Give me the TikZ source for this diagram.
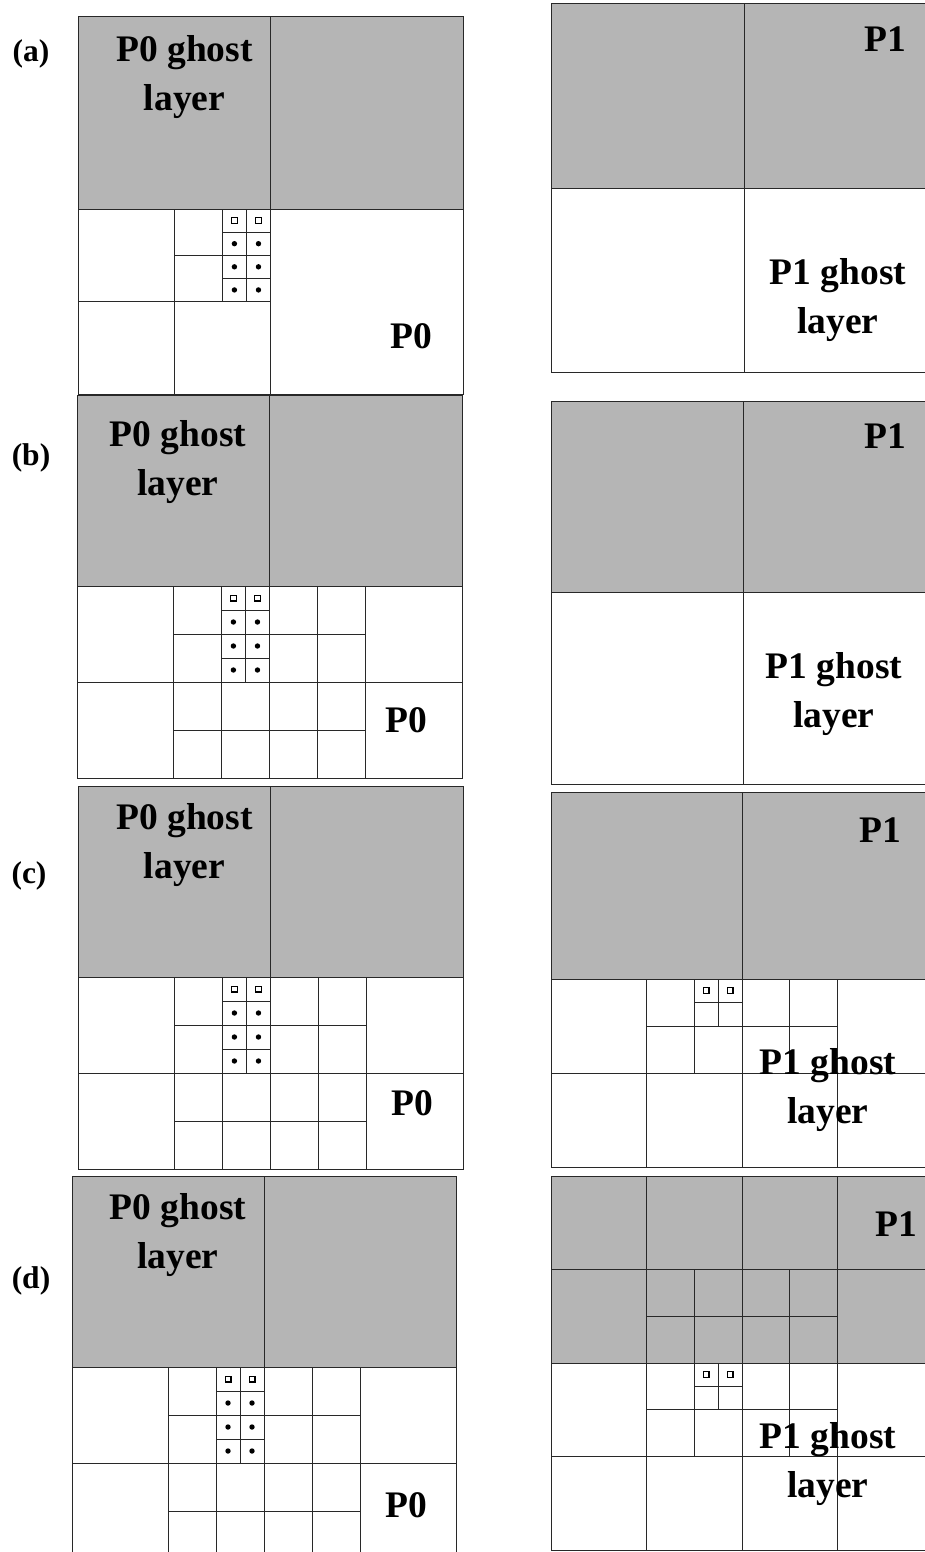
\documentclass[tikz,border=0pt]{standalone}
\usepackage{fontspec}
\setmainfont{Liberation Serif}
\definecolor{ghostgray}{RGB}{181,181,181}
\definecolor{linecol}{RGB}{40,40,40}
\tikzset{
  ghostfill/.style={fill=ghostgray},
  gridline/.style={draw=linecol, line width=1pt},
  bigtext/.style={font=\fontsize{37.5}{49}\selectfont\bfseries, inner sep=0pt, anchor=base, align=center},
  tagtext/.style={font=\fontsize{31.5}{36}\selectfont\bfseries, inner sep=0pt, anchor=base},
  ghostsq/.style={draw=black, line width=1.2pt},
  dotmark/.style={fill=black},
}
% L T W HG HW
\newcommand\setgrid[5]{%
  \pgfmathsetmacro\xA{#1}%
  \pgfmathsetmacro\xB{#1+#3*0.5}%
  \pgfmathsetmacro\xC{#1+#3*0.75}%
  \pgfmathsetmacro\xD{#1+#3*0.875}%
  \pgfmathsetmacro\xE{#1+#3}%
  \pgfmathsetmacro\xF{#1+#3*1.25}%
  \pgfmathsetmacro\xG{#1+#3*1.5}%
  \pgfmathsetmacro\xH{#1+#3*2}%
  \pgfmathsetmacro\mxa{#1+#3*0.8125}%
  \pgfmathsetmacro\mxb{#1+#3*0.9375}%
  \pgfmathsetmacro\yT{#2}%
  \pgfmathsetmacro\yP{#2+#4*0.5}%
  \pgfmathsetmacro\yQ{#2+#4*0.75}%
  \pgfmathsetmacro\yG{#2+#4}%
  \pgfmathsetmacro\yA{#2+#4+#5*0.125}%
  \pgfmathsetmacro\yB{#2+#4+#5*0.25}%
  \pgfmathsetmacro\yC{#2+#4+#5*0.375}%
  \pgfmathsetmacro\yD{#2+#4+#5*0.5}%
  \pgfmathsetmacro\yE{#2+#4+#5*0.75}%
  \pgfmathsetmacro\yZ{#2+#4+#5}%
  \pgfmathsetmacro\myA{#2+#4+#5*0.0625}%
  \pgfmathsetmacro\myB{#2+#4+#5*0.1875}%
  \pgfmathsetmacro\myC{#2+#4+#5*0.3125}%
  \pgfmathsetmacro\myD{#2+#4+#5*0.4375}%
}
\newcommand\pbase{%
  \fill[ghostfill] (\xA,\yT) rectangle (\xH,\yG);
  \draw[gridline] (\xA,\yT) rectangle (\xH,\yZ) (\xE,\yT)--(\xE,\yZ) (\xA,\yG)--(\xH,\yG);
}
\newcommand\pleftextra{%
  \draw[gridline] (\xB,\yG)--(\xB,\yZ) (\xC,\yG)--(\xC,\yZ) (\xD,\yG)--(\xD,\yD)
    (\xF,\yG)--(\xF,\yZ) (\xG,\yG)--(\xG,\yZ) (\xC,\yA)--(\xE,\yA) (\xB,\yB)--(\xG,\yB)
    (\xC,\yC)--(\xE,\yC) (\xA,\yD)--(\xH,\yD) (\xB,\yE)--(\xG,\yE);
}
\newcommand\prightextra{%
  \draw[gridline] (\xB,\yG)--(\xB,\yZ) (\xC,\yG)--(\xC,\yD) (\xD,\yG)--(\xD,\yB)
    (\xF,\yG)--(\xF,\yD) (\xG,\yG)--(\xG,\yZ) (\xC,\yA)--(\xE,\yA) (\xB,\yB)--(\xG,\yB)
    (\xA,\yD)--(\xH,\yD);
}
\newcommand\psquares{%
  \draw[ghostsq] (\mxa,\myA) +(-2.9,-2.9) rectangle +(2.9,2.9)
                 (\mxb,\myA) +(-2.9,-2.9) rectangle +(2.9,2.9);
}
\newcommand\pdots{%
  \fill[dotmark] (\mxa,\myB) circle (2.7pt) (\mxb,\myB) circle (2.7pt)
                 (\mxa,\myC) circle (2.7pt) (\mxb,\myC) circle (2.7pt)
                 (\mxa,\myD) circle (2.7pt) (\mxb,\myD) circle (2.7pt);
}
\begin{document}
\begin{tikzpicture}[x=1pt,y=-1pt]
\useasboundingbox (0,0) rectangle (925,1552);
\clip (0,0) rectangle (925,1552);

% ---------- (a) ----------
\setgrid{78}{17}{192.5}{192}{185}
\pbase
\draw[gridline] (\xB,\yG)--(\xB,\yZ) (\xA,\yD)--(\xE,\yD) (\xC,\yG)--(\xC,\yD)
  (\xB,\yB)--(\xE,\yB) (\xD,\yG)--(\xD,\yD) (\xC,\yA)--(\xE,\yA) (\xC,\yC)--(\xE,\yC);
\psquares \pdots
\node[bigtext] (ga) at (184.5,111) {P0 ghost\\layer};
\node[bigtext] (pa) at (411,348) {P0};
\node[tagtext] (ta) at (31,62) {(a)};

\setgrid{551}{4}{193}{184}{184}
\pbase
\node[bigtext] (qa) at (885,52) {P1};
\node[bigtext] (ha) at (838,333) {P1 ghost\\layer};

% ---------- (b) ----------
\setgrid{77}{395}{192.5}{191}{192}
\pbase \pleftextra \psquares \pdots
\node[bigtext] (gb) at (178,495) {P0 ghost\\layer};
\node[bigtext] (pb) at (406,732) {P0};
\node[tagtext] (tb) at (31,465) {(b)};

\setgrid{551}{401}{192}{191}{192}
\pbase
\node[bigtext] (qb) at (885,448) {P1};
\node[bigtext] (hb) at (834,727) {P1 ghost\\layer};

% ---------- (c) ----------
\setgrid{78}{786}{192.5}{191}{192}
\pbase \pleftextra \psquares \pdots
\node[bigtext] (gc) at (184.5,878) {P0 ghost\\layer};
\node[bigtext] (pc) at (412.5,1115) {P0};
\node[tagtext] (tc) at (29,883) {(c)};

\setgrid{551}{792}{191}{187}{188}
\pbase \prightextra \psquares
\node[bigtext] (qc) at (880,842) {P1};
\node[bigtext] (hc) at (828,1123) {P1 ghost\\layer};

% ---------- (d) ----------
\setgrid{72}{1176}{192}{191}{192}
\pbase \pleftextra \psquares \pdots
\node[bigtext] (gd) at (178,1268) {P0 ghost\\layer};
\node[bigtext] (pd) at (406,1517) {P0};
\node[tagtext] (td) at (31,1288) {(d)};

\setgrid{551}{1176}{191}{187}{187}
\pbase \prightextra
\draw[gridline] (\xB,\yT)--(\xB,\yG) (\xG,\yT)--(\xG,\yG) (\xA,\yP)--(\xH,\yP)
  (\xC,\yP)--(\xC,\yG) (\xF,\yP)--(\xF,\yG) (\xB,\yQ)--(\xG,\yQ);
\psquares
\node[bigtext] (qd) at (896.5,1236) {P1};
\node[bigtext] (hd) at (828,1497) {P1 ghost\\layer};
\end{tikzpicture}
\end{document}
